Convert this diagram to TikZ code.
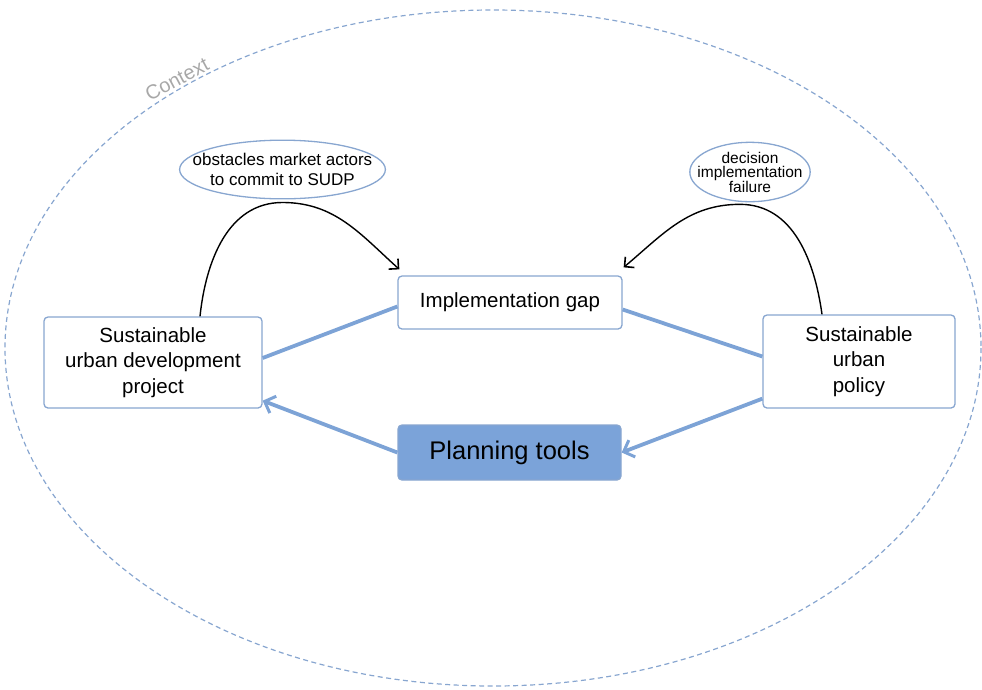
\documentclass[tikz,border=0pt]{standalone}
\usepackage{fontspec}
\setmainfont{Liberation Sans}
\usetikzlibrary{arrows.meta,shapes.geometric}
\definecolor{frameblue}{HTML}{88A6D0}
\definecolor{linkblue}{HTML}{7DA3D6}
\definecolor{toolfill}{HTML}{7BA3D9}
\definecolor{ctxgray}{HTML}{A8A8A8}
\tikzset{
  box/.style={draw=frameblue, line width=1.3pt, rounded corners=4pt, fill=white,
    align=center, inner sep=0pt, font=\fontsize{20.5}{25.5}\selectfont},
  toolbox/.style={box, fill=toolfill, font=\fontsize{25.5}{30}\selectfont},
  cloud/.style={ellipse, draw=frameblue, line width=1.3pt, fill=white, align=center},
  link/.style={draw=linkblue, line width=3.8pt},
  linkarrow/.style={link, -{Straight Barb[length=9pt,width=18pt,line width=3pt]}},
  cause/.style={draw=black, line width=1.4pt, -{Straight Barb[length=7pt,width=14pt,line width=1.6pt]}},
}
\begin{document}
\begin{tikzpicture}[x=1pt,y=-1pt]
  \useasboundingbox (0,0) rectangle (982,689);
  % surrounding context
  \draw[frameblue, line width=1.2pt, dash pattern=on 5pt off 3.5pt] (493,348) ellipse [x radius=488, y radius=338];
  \node[text=ctxgray, rotate=28, inner sep=0pt, font=\fontsize{20}{24}\selectfont] (ctx) at (177,79) {Context};

  % main boxes
  \node[box, minimum width=218, minimum height=91] (L) at (153,362.5) {Sustainable\\urban development\\project};
  \node[box, minimum width=224, minimum height=53] (G) at (510,302.5) {Implementation gap};
  \node[box, minimum width=192, minimum height=93] (R) at (859,361.5) {Sustainable\\urban\\policy};
  \node[toolbox, minimum width=223, minimum height=55] (P) at (509.5,452.5) {Planning tools};

  % explanatory labels
  \node[cloud, inner xsep=-17pt, inner ysep=4.5pt, font=\fontsize{17}{20}\selectfont] (E1) at (282.5,169.5) {obstacles market actors\\to commit to SUDP};
  \node[cloud, inner xsep=-10pt, inner ysep=0.8pt, font=\fontsize{15.5}{14.5}\selectfont] (E2) at (750,172) {decision\\implementation\\failure};

  % blue links
  \draw[link] ([yshift=-4pt]G.west) -- ([yshift=4.5pt]L.east);
  \draw[link] ([yshift=-7pt]G.east) -- ([yshift=5pt]R.west);
  \draw[linkarrow] (P.west) -- ([yshift=8pt]L.south east);
  \draw[linkarrow] ([yshift=10pt]R.south west) -- (P.east);

  % causal curves
  \draw[cause] ([xshift=47pt]L.north) to[out=84,in=180] ([yshift=-3pt]E1.south) to[out=0,in=138] ([shift={(2pt,6pt)}]G.north west);
  \draw[cause] ([xshift=-37pt]R.north) to[out=98,in=0] ([shift={(-10pt,-2pt)}]E2.south) to[out=180,in=40] ([shift={(1pt,8pt)}]G.north east);
\end{tikzpicture}
\end{document}
